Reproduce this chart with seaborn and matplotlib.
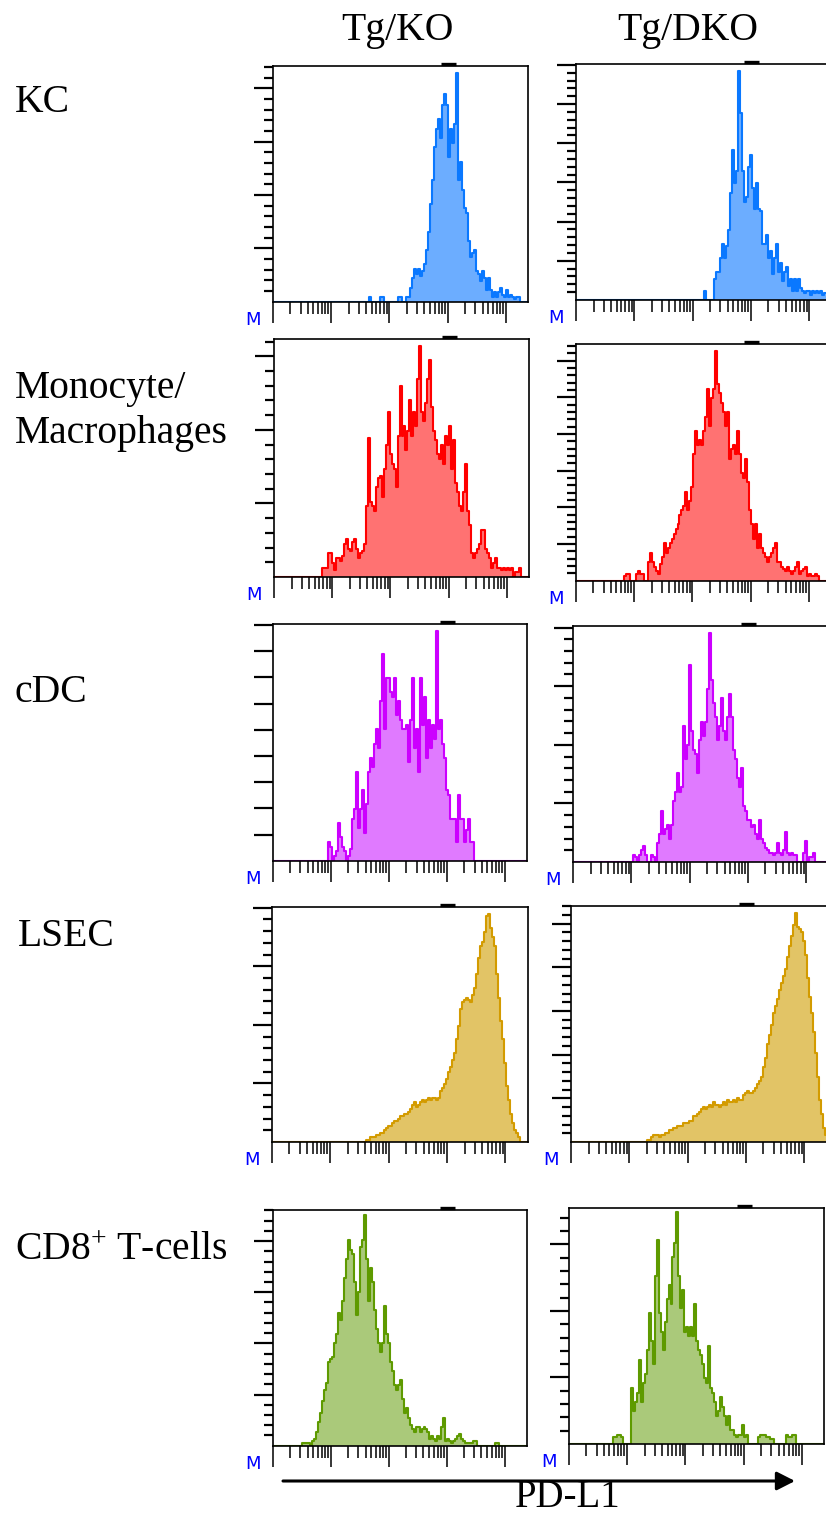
import numpy as np
import pandas as pd
import matplotlib
matplotlib.use("Agg")
import matplotlib.pyplot as plt
from matplotlib.patches import FancyArrowPatch
import seaborn as sns

sns.set_style("ticks")
plt.rcParams["font.family"] = ["Liberation Serif", "DejaVu Serif"]
plt.rcParams["text.color"] = "black"
plt.rcParams["mathtext.fontset"] = "custom"
plt.rcParams["mathtext.rm"] = "Liberation Serif"
plt.rcParams["mathtext.it"] = "Liberation Serif:italic"

# ---------------- data ----------------
columns = ["Tg/KO", "Tg/DKO"]
rows = ["KC", "Monocyte/\nMacrophages", "cDC", "LSEC", "CD8$^{+}$ T-cells"]
axis_label = "PD-L1"
n_channels = 128          # histogram channels over the axis
decades = 4.383           # log10 span of the axis
gate = (2.88, 3.14)       # marker gate (log10 units)

# counts (% of max scale), starting at the given channel
kc_ko_start = 48
kc_ko = [2, 0, 0, 0, 0, 0, 2, 2, 0, 0, 0, 0, 0, 0, 0, 2, 2, 0, 0, 2,
         2, 6, 10, 14, 12, 14, 11, 13, 16, 22, 30, 42, 52, 66, 74, 78, 70, 84, 89, 84,
         62, 74, 68, 76, 98, 52, 60, 48, 40, 38, 26, 19, 21, 22, 13, 12, 9, 13, 10, 5,
         10, 5, 2, 4, 2, 4, 6, 3, 2, 5, 2, 3, 2, 1, 2, 2]
kc_dko_start = 64
kc_dko = [4, 0, 0, 0, 0, 9, 12, 12, 18, 24, 18, 23, 30, 46, 64, 50, 55, 98, 80, 55,
          42, 44, 57, 62, 48, 39, 50, 39, 38, 24, 24, 28, 18, 21, 11, 18, 24, 12, 16, 8,
          12, 14, 6, 9, 4, 9, 4, 9, 5, 4, 3, 4, 4, 2, 4, 3, 4, 3, 4, 2, 3, 3, 2, 3]

mono_ko_start = 24
mono_ko = [4, 4, 4, 10, 10, 6, 3, 8, 8, 7, 9, 14, 16, 12, 11, 15, 16, 12, 8, 10,
           11, 14, 30, 59, 32, 30, 28, 38, 42, 43, 34, 46, 56, 70, 52, 48, 46, 38, 60, 81,
           60, 64, 54, 62, 75, 60, 70, 64, 84, 98, 70, 66, 74, 84, 92, 72, 62, 58, 52, 50,
           56, 48, 60, 56, 64, 46, 58, 40, 36, 30, 28, 36, 48, 28, 22, 10, 8, 10, 12, 14,
           20, 20, 12, 10, 8, 4, 6, 8, 4, 4, 3, 4, 3, 4, 3, 4, 0, 2, 2, 4, 0]
mono_dko_start = 24
mono_dko = [2, 3, 3, 0, 0, 0, 3, 4, 3, 3, 0, 0, 8, 12, 8, 6, 4, 3, 7, 10,
            16, 12, 14, 16, 18, 20, 22, 24, 28, 30, 32, 38, 30, 34, 40, 54, 64, 58, 60, 58,
            64, 70, 82, 66, 78, 82, 98, 84, 80, 76, 72, 66, 72, 52, 56, 58, 54, 64, 54, 46,
            44, 52, 42, 30, 24, 18, 24, 14, 20, 14, 12, 10, 8, 10, 12, 14, 16, 8, 8, 6,
            5, 4, 6, 4, 3, 4, 6, 8, 3, 4, 5, 6, 2, 3, 2, 2, 3, 2, 0]

cdc_ko_start = 28
cdc_ko = [8, 6, 0, 2, 4, 16, 10, 6, 4, 0, 2, 5, 18, 22, 38, 14, 22, 30, 12, 24,
          38, 44, 40, 50, 56, 48, 68, 88, 56, 78, 78, 72, 70, 78, 62, 68, 60, 56, 56, 58,
          42, 60, 78, 48, 56, 38, 78, 58, 70, 44, 60, 48, 58, 52, 98, 56, 60, 50, 44, 30,
          28, 18, 18, 18, 8, 28, 18, 18, 8, 13, 18, 8, 8, 0]
cdc_dko_start = 30
cdc_dko = [3, 2, 0, 3, 5, 7, 3, 0, 0, 3, 2, 0, 8, 12, 22, 12, 14, 16, 10, 16,
           26, 30, 38, 30, 32, 58, 44, 50, 84, 56, 48, 46, 38, 52, 60, 54, 60, 74, 98, 78,
           68, 62, 52, 58, 70, 56, 52, 62, 72, 62, 48, 44, 36, 32, 40, 24, 22, 18, 18, 15,
           16, 12, 10, 18, 10, 8, 6, 5, 4, 4, 3, 4, 8, 4, 3, 5, 13, 4, 3, 4,
           3, 3, 0, 0, 0, 4, 9, 0, 2, 2, 4, 0]

lsec_ko_start = 47
lsec_ko = [1, 1, 2, 2, 2, 3, 3, 4, 4, 5, 6, 7, 7, 8, 9, 9, 10, 11, 11, 12,
           12, 13, 14, 16, 17, 15, 16, 17, 18, 17, 18, 19, 18, 19, 19, 18, 19, 22, 23, 25,
           27, 30, 32, 35, 38, 44, 50, 57, 60, 61, 62, 61, 60, 63, 66, 72, 79, 84, 86, 90,
           97, 98, 92, 88, 84, 72, 62, 52, 44, 34, 24, 18, 12, 8, 5, 4, 2, 0]
lsec_dko_start = 38
lsec_dko = [1, 1, 2, 3, 3, 3, 2, 3, 3, 4, 4, 5, 5, 6, 6, 7, 7, 7, 8, 8,
            8, 9, 9, 11, 11, 12, 13, 14, 15, 14, 15, 16, 15, 17, 16, 16, 15, 16, 17, 16,
            18, 17, 17, 18, 17, 19, 18, 18, 20, 21, 22, 21, 21, 22, 23, 25, 26, 28, 32, 36,
            42, 46, 50, 55, 58, 61, 65, 68, 71, 74, 79, 84, 88, 93, 98, 92, 91, 90, 86, 80,
            70, 62, 55, 47, 38, 28, 18, 12, 6, 3]

cd8_ko_start = 15
cd8_ko = [1, 1, 1, 1, 0, 2, 3, 6, 10, 14, 19, 24, 27, 36, 37, 38, 44, 48, 57, 54,
          62, 72, 80, 88, 84, 82, 70, 56, 66, 85, 88, 99, 80, 62, 76, 70, 58, 50, 44, 40,
          44, 60, 48, 44, 36, 32, 26, 24, 26, 28, 20, 14, 16, 12, 9, 7, 6, 8, 8, 6,
          7, 8, 7, 6, 3, 4, 3, 2, 4, 3, 8, 12, 2, 3, 2, 1, 2, 3, 4, 5,
          3, 2, 1, 1, 1, 1, 2, 2, 0, 0, 0, 0, 0, 0, 0, 0, 0, 1, 1, 0]
cd8_dko_start = 22
cd8_dko = [3, 3, 4, 4, 3, 0, 0, 0, 0, 24, 14, 18, 22, 36, 18, 26, 30, 40, 56, 44,
           34, 72, 87, 56, 48, 40, 52, 62, 68, 60, 80, 86, 99, 72, 58, 66, 48, 50, 46, 50,
           46, 60, 44, 40, 38, 34, 28, 26, 42, 24, 22, 18, 12, 14, 20, 16, 12, 8, 12, 6,
           6, 4, 3, 4, 4, 8, 3, 4, 0, 0, 0, 0, 0, 3, 4, 4, 4, 3, 3, 2,
           2, 0, 0, 0, 0, 0, 0, 4, 3, 3, 4, 4, 0]

series = [
    [(kc_ko_start, kc_ko), (kc_dko_start, kc_dko)],
    [(mono_ko_start, mono_ko), (mono_dko_start, mono_dko)],
    [(cdc_ko_start, cdc_ko), (cdc_dko_start, cdc_dko)],
    [(lsec_ko_start, lsec_ko), (lsec_dko_start, lsec_dko)],
    [(cd8_ko_start, cd8_ko), (cd8_dko_start, cd8_dko)],
]

# ---------------- style / layout ----------------
line_colors = ["#0A78FF", "#FF0000", "#CC00FF", "#D39B00", "#5E9A00"]
fill_colors = ["#6CADFF", "#FF7272", "#E07AFF", "#E2C466", "#AAC97A"]

W, H = 826, 1518
# panel boxes in pixels: left, top, width, height
boxes = [
    [(272.7, 65.7, 255.5, 236.0), (576.0, 64.0, 255.5, 236.0)],
    [(274.0, 339.0, 255.0, 238.0), (575.7, 344.0, 255.5, 236.7)],
    [(272.7, 624.0, 254.5, 236.7), (573.0, 625.7, 255.5, 236.3)],
    [(271.7, 906.7, 256.0, 235.3), (571.0, 906.0, 255.5, 236.0)],
    [(272.7, 1210.0, 254.0, 235.7), (568.7, 1207.7, 255.5, 236.3)],
]
ytick_frac = [[0.0452, 0.0332], [0.0618, 0.0310], [0.1106, 0.0496],
              [0.0498, 0.0370], [0.0434, 0.0563]]
major_every = [[5, 5], [5, 5], [1, 5], [5, 5], [5, 5]]
YMAX = 101.0

fig = plt.figure(figsize=(W / 100, H / 100), dpi=100)
fig.patch.set_facecolor("white")

edges = list(np.linspace(0, decades, n_channels + 1))
bin_w = decades / n_channels
minor_x = [d + np.log10(m) for d in range(4) for m in range(2, 10)]

for r in range(5):
    for c in range(2):
        l, t, w, h = boxes[r][c]
        ax = fig.add_axes([l / W, 1 - (t + h) / H, w / W, h / H])
        start, vals = series[r][c]
        k = np.arange(start - 1, start + len(vals) + 1)
        df = pd.DataFrame({"x": (k + 0.5) * bin_w,
                           "w": np.r_[0, vals, 0].astype(float)})
        sns.histplot(data=df, x="x", weights="w", bins=edges, element="step", fill=True,
                     color=fill_colors[r], alpha=1, linewidth=0, ax=ax)
        sns.histplot(data=df, x="x", weights="w", bins=edges, element="step", fill=False,
                     color=line_colors[r], linewidth=1.5, ax=ax)
        ax.set_xlim(0, decades)
        ax.set_ylim(0, YMAX)
        ax.set_xlabel("")
        ax.set_ylabel("")
        for s in ax.spines.values():
            s.set_visible(True)
            s.set_linewidth(1.2)
            s.set_color("black")
        ax.set_xticks([0, 1, 2, 3, 4])
        ax.set_xticks(minor_x, minor=True)
        step = ytick_frac[r][c] * YMAX
        n = int(YMAX / step)
        ys = [i * step for i in range(1, n + 1)]
        me = major_every[r][c]
        ax.set_yticks([y for i, y in enumerate(ys, 1) if i % me == 0])
        ax.set_yticks([y for i, y in enumerate(ys, 1) if i % me != 0], minor=True)
        ax.tick_params(axis="x", which="major", direction="out", length=15, width=1.1,
                       bottom=True, top=False, labelbottom=False, color="black")
        ax.tick_params(axis="x", which="minor", direction="out", length=8.5, width=1.1,
                       bottom=True, top=False, color="black")
        ax.tick_params(axis="y", which="major", direction="out", length=13.5, width=1.6,
                       left=True, right=False, labelleft=False, color="black")
        ax.tick_params(axis="y", which="minor", direction="out", length=6.5, width=1.6,
                       left=True, right=False, color="black")
        ax.set_facecolor("white")
        # gate marker bar
        ax.plot(gate, [1.009, 1.009], transform=ax.get_xaxis_transform(), color="black",
                lw=2.4, clip_on=False, solid_capstyle="butt")
        # blue marker label
        ax.text(-20 / w, -18 / h, "M", transform=ax.transAxes, color="#0000FF",
                fontsize=13, family="DejaVu Sans", ha="center", va="center")

# column headers
for x, txt in zip([397, 688], columns):
    fig.text(x / W, 1 - 40 / H, txt, ha="center", va="baseline", fontsize=28.5)

# row labels
row_x = [15, 15, 15, 18, 15]
row_base = [[112], [398, 443], [702], [946], [1260]]
for lab, x, bases in zip(rows, row_x, row_base):
    for line, b in zip(lab.split("\n"), bases):
        fig.text(x / W, 1 - b / H, line, ha="left", va="baseline", fontsize=28.5)

# axis arrow + label
arrow = FancyArrowPatch((283 / W, 1 - 1481 / H), (795 / W, 1 - 1481 / H),
                        transform=fig.transFigure, arrowstyle="-|>,head_length=0.55,head_width=0.28",
                        mutation_scale=20, lw=2.2, color="black", shrinkA=0, shrinkB=0)
fig.patches.append(arrow)
fig.text(568 / W, 1 - 1507 / H, axis_label, ha="center", va="baseline", fontsize=28)

fig.savefig("out.png", dpi=100, facecolor="white")
